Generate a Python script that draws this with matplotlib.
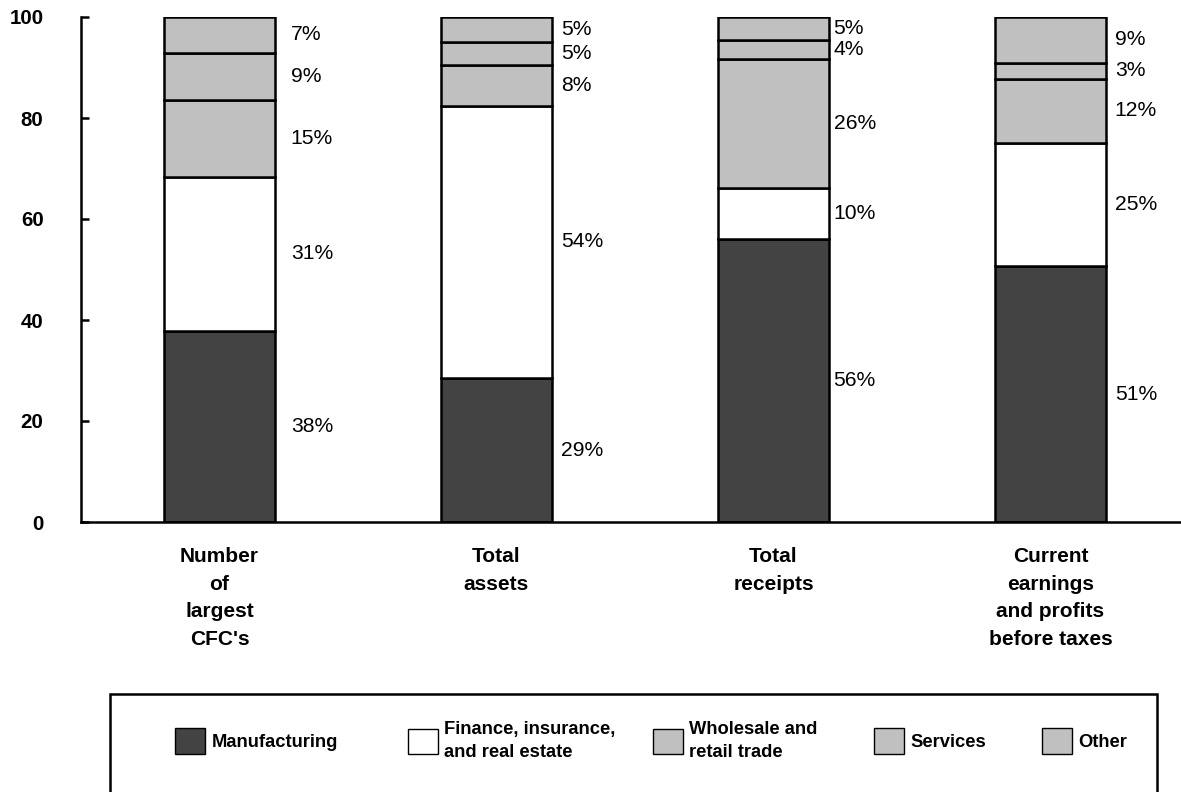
import numpy as np
import matplotlib
matplotlib.use("Agg")
import matplotlib.pyplot as plt
from matplotlib.patches import Rectangle

plt.rcParams['font.family'] = ['Liberation Sans', 'DejaVu Sans']

# categories along the x axis
categories = ["Number\nof\nlargest\nCFC's", "Total\nassets", "Total\nreceipts",
              "Current\nearnings\nand profits\nbefore taxes"]
sectors = ["Manufacturing", "Finance, insurance,\nand real estate",
           "Wholesale and\nretail trade", "Services", "Other"]

# segment heights (percent)
manufacturing = [37.8, 28.5, 56.0, 50.6]
finance = [30.6, 53.9, 10.1, 24.5]
wholesale = [15.2, 8.0, 25.6, 12.6]
services = [9.3, 4.65, 3.7, 3.25]
other = [7.1, 4.95, 4.6, 9.05]

# printed labels
lab_manufacturing = ["38%", "29%", "56%", "51%"]
lab_finance = ["31%", "54%", "10%", "25%"]
lab_wholesale = ["15%", "8%", "26%", "12%"]
lab_services = ["9%", "5%", "4%", "3%"]
lab_other = ["7%", "5%", "5%", "9%"]

series = [manufacturing, finance, wholesale, services, other]
labels = [lab_manufacturing, lab_finance, lab_wholesale, lab_services, lab_other]
colors = ["#434343", "#ffffff", "#c0c0c0", "#c0c0c0", "#c0c0c0"]
label_offset = [11, 6, 3, 6]  # points to the right of each bar
legend_x = [175, 408, 653, 874, 1042]  # pixel position of each legend entry

fig = plt.figure(figsize=(11.81, 7.92), dpi=100)
ax = fig.add_axes([81 / 1181, 1 - 522 / 792, 1 - 81 / 1181, (522 - 17) / 792])

x = np.arange(len(categories))
width = 0.404
bottom = np.zeros(len(categories))
for vals, labs, col, name in zip(series, labels, colors, sectors):
    vals = np.array(vals)
    ax.bar(x, vals, width, bottom=bottom, color=col, edgecolor="black",
           linewidth=1.8, label=name, zorder=2)
    for i in range(len(x)):
        ax.annotate(labs[i], xy=(x[i] + width / 2, bottom[i] + vals[i] / 2),
                    xytext=(label_offset[i], 0), textcoords="offset points",
                    ha="left", va="center", fontsize=15.2)
    bottom = bottom + vals

ax.set_xlim(-0.5, (1181 - 81) / 277 - 0.5)
ax.set_ylim(0, 100)
ax.set_yticks([0, 20, 40, 60, 80, 100])
ax.set_xticks(x)
ax.set_xticklabels(categories, fontsize=15, fontweight="bold", linespacing=1.58)
ax.tick_params(axis="x", length=0, pad=18)
ax.tick_params(axis="y", direction="in", length=6, width=1.8, pad=27, labelsize=14.8)
for t in ax.get_yticklabels():
    t.set_fontweight("bold")
for s in ["top", "right"]:
    ax.spines[s].set_visible(False)
for s in ["left", "bottom"]:
    ax.spines[s].set_linewidth(1.8)

# legend box (runs off the bottom of the page)
fig.patches.append(Rectangle((110 / 1181, -0.05), (1157 - 110) / 1181, 0.05 + (792 - 694) / 792,
                             transform=fig.transFigure, fill=False, edgecolor="black",
                             linewidth=1.8))
handles, names = ax.get_legend_handles_labels()
for h, name, lx in zip(handles, names, legend_x):
    leg = fig.legend([h], [name], loc="center left",
                     bbox_to_anchor=(lx / 1181, 1 - 741 / 792), frameon=False,
                     borderpad=0, borderaxespad=0, handlelength=1.66, handleheight=1.75,
                     handletextpad=0.33, prop={"size": 13.2, "weight": "bold"})
    for lh in leg.legend_handles:
        lh.set_linewidth(1.0)
    for t in leg.get_texts():
        t.set_linespacing(1.4)

fig.savefig("out.png", dpi=100)
